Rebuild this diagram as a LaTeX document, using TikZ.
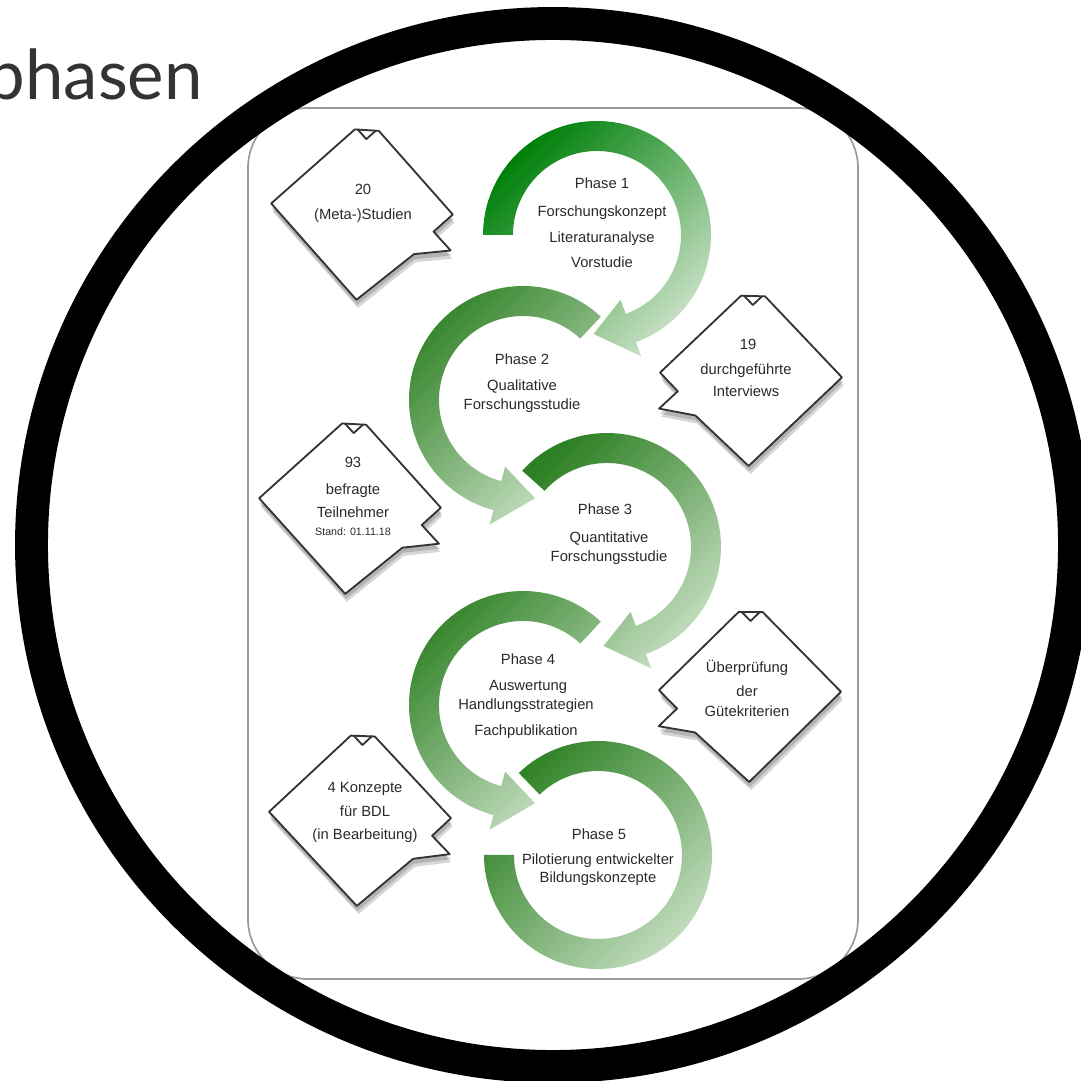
\documentclass[tikz,border=0pt]{standalone}
\usepackage{fontspec}
\setmainfont{Liberation Sans}
\newfontfamily\titlefont{Lato}
\definecolor{txt}{HTML}{2A2A2A}
\definecolor{gdarkA}{RGB}{0,128,10}
\definecolor{gdark}{RGB}{45,128,35}
\definecolor{gpale}{RGB}{200,224,196}
\definecolor{framegray}{HTML}{9A9A9A}
\tikzset{
  ringA/.style={top color=gdarkA, bottom color=gpale, shading angle=45},
  ringB/.style={top color=gdark, bottom color=gpale, shading angle=45},
  ptext/.style={font=\fontsize{10.5}{12}\selectfont, text=txt, anchor=base, inner sep=0pt},
  stext/.style={font=\fontsize{7.6}{9}\selectfont, text=txt, anchor=base, inner sep=0pt},
  cline/.style={draw=black!80, line width=1.3pt, fill=white, line join=round},
  cshadow/.style={fill=black, opacity=0.16},
  frame/.style={draw=framegray, line width=1.2pt, rounded corners=1.5cm},
  bigring/.style={draw=black, line width=23.4pt},
}
\newcommand\dR{(-91,0) -- (-12,79) -- (12,79) -- (91,0) -- (72.8,-18.2) -- (91,-36) -- (54.6,-41.9) -- (0,-91) -- cycle}
\newcommand\dL{(-91,0) -- (-12,79) -- (12,79) -- (91,0) -- (0,-91) -- (-54.6,-41.9) -- (-91,-36) -- (-72.8,-18.2) -- cycle}
\newcommand\mycallout[5]{%
  \begin{scope}[shift={(#2,#3)}, rotate=#4]
    \coordinate (#1) at (0,0);
    \fill[cshadow, shift={(2,-8)}] #5;
    \fill[cshadow, shift={(1,-5)}] #5;
    \path[cline] #5;
    \draw[cline, fill=none] (-9,79) -- (0,70) -- (9,79);
  \end{scope}}
\begin{document}
\begin{tikzpicture}[x=0.025cm, y=0.025cm]
\useasboundingbox (0,0) rectangle (1081,1081);
\clip (0,0) rectangle (1081,1081);
\fill[white] (0,0) rectangle (1081,1081);

% frame
\draw[frame] (248,102) rectangle (858,973);

% phase rings
\coordinate (r2) at (523,681);
\begin{scope}[shift={(r2)}]
  \shade[ringB] (47:114) arc[start angle=47,end angle=255,radius=114] -- (255:129) -- (277:99) -- (255:69) -- (255:84) arc[start angle=255,end angle=47,radius=84] -- cycle;
\end{scope}
\coordinate (r1) at (597,846);
\begin{scope}[shift={(r1)}]
  \shade[ringA] (180:114) arc[start angle=180,end angle=-70,radius=114] -- (-70:129) -- (-92:99) -- (-70:69) -- (-70:84) arc[start angle=-70,end angle=180,radius=84] -- cycle;
\end{scope}
\coordinate (r4) at (523,376);
\begin{scope}[shift={(r4)}]
  \shade[ringB] (47:114) arc[start angle=47,end angle=255,radius=114] -- (255:129) -- (277:99) -- (255:69) -- (255:84) arc[start angle=255,end angle=47,radius=84] -- cycle;
\end{scope}
\coordinate (r3) at (607,534);
\begin{scope}[shift={(r3)}]
  \shade[ringB] (138:114) arc[start angle=138,end angle=-70,radius=114] -- (-70:129) -- (-92:99) -- (-70:69) -- (-70:84) arc[start angle=-70,end angle=138,radius=84] -- cycle;
\end{scope}
\coordinate (r5) at (598,226);
\begin{scope}[shift={(r5)}]
  \shade[ringB] (134:114) arc[start angle=134,end angle=-180,radius=114] -- (-180:84) arc[start angle=-180,end angle=134,radius=84] -- cycle;
\end{scope}

% phase texts
\node[ptext] (p1a) at (602,892) {Phase 1};
\node[ptext] (p1b) at (602,864) {Forschungskonzept};
\node[ptext] (p1c) at (602,838) {Literaturanalyse};
\node[ptext] (p1d) at (602,813) {Vorstudie};
\node[ptext] (p2a) at (522,716) {Phase 2};
\node[ptext] (p2b) at (522,690) {Qualitative};
\node[ptext] (p2c) at (522,671) {Forschungsstudie};
\node[ptext] (p3a) at (605,566) {Phase 3};
\node[ptext] (p3b) at (609,538) {Quantitative};
\node[ptext] (p3c) at (609,519) {Forschungsstudie};
\node[ptext] (p4a) at (528,416) {Phase 4};
\node[ptext] (p4b) at (528,390) {Auswertung};
\node[ptext] (p4c) at (526,371) {Handlungsstrategien};
\node[ptext] (p4d) at (526,345) {Fachpublikation};
\node[ptext] (p5a) at (599,241) {Phase 5};
\node[ptext] (p5b) at (598,216) {Pilotierung entwickelter};
\node[ptext] (p5c) at (598,198) {Bildungskonzepte};

% callouts
\mycallout{c1}{362}{872}{-3.5}{\dR}
\mycallout{c2}{751}{706}{-1.5}{\dL}
\mycallout{c3}{350}{578}{-3}{\dR}
\mycallout{c4}{750}{390}{-0.5}{\dL}
\mycallout{c5}{360}{266}{-2}{\dR}

\node[ptext] (c1a) at (363,886) {20};
\node[ptext] (c1b) at (363,861) {(Meta-)Studien};
\node[ptext] (c2a) at (748,731) {19};
\node[ptext] (c2b) at (746,706) {durchgeführte};
\node[ptext] (c2c) at (746,684) {Interviews};
\node[ptext] (c3a) at (353,613) {93};
\node[ptext] (c3b) at (353,586) {befragte};
\node[ptext] (c3c) at (353,563) {Teilnehmer};
\node[stext] (c3d) at (353,545) {Stand: 01.11.18};
\node[ptext] (c4a) at (747,408) {Überprüfung};
\node[ptext] (c4b) at (747,384) {der};
\node[ptext] (c4c) at (747,364) {Gütekriterien};
\node[ptext] (c5a) at (365,288) {4 Konzepte};
\node[ptext] (c5b) at (365,264) {für BDL};
\node[ptext] (c5c) at (365,241) {(in Bearbeitung)};

% big black ring
\coordinate (bc) at (553,536);
\draw[bigring] (bc) circle[radius=521.5];

% title
\node[font=\titlefont\fontsize{49}{50}\selectfont, text=black!80, anchor=base east, inner sep=0pt] (title) at (203,981) {phasen};
\end{tikzpicture}
\end{document}
